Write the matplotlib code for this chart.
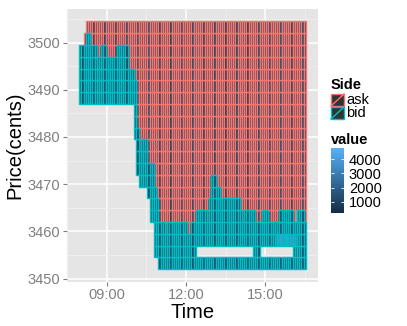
import numpy as np
import matplotlib
matplotlib.use("Agg")
import matplotlib.pyplot as plt
from matplotlib.colors import LinearSegmentedColormap, Normalize
from matplotlib.patches import Rectangle
from matplotlib.lines import Line2D
import matplotlib.cm as cm

plt.rcParams['font.family'] = ['Liberation Sans', 'DejaVu Sans']

# ---------------- data ----------------
# price levels of the book (tile centres, cents)
price_levels = [3453.25, 3455.75, 3458.25, 3460.75, 3463.25, 3465.75, 3468.25,
                3470.75, 3473.25, 3475.75, 3478.25, 3480.75, 3483.25, 3485.75,
                3488.25, 3490.75, 3493.25, 3495.75, 3498.25, 3500.75, 3503.25]
level_height = 2.5
snap_minutes = 5
first_snap = "08:00"
last_snap = "16:30"

# book shape per time segment (indices into price_levels; -1/21 = no orders)
seg_start = ["08:00", "08:10", "08:15", "08:25", "08:40", "08:50", "09:00", "09:25",
             "09:50", "10:05", "10:10", "10:15", "10:20", "10:35", "10:40", "10:50",
             "10:55", "11:00", "11:15", "11:20", "12:05", "12:15", "12:25", "12:50",
             "12:55", "13:00", "13:10", "13:20", "14:05", "14:10", "14:15", "14:40",
             "14:55", "15:10", "15:35", "16:05", "16:15", "16:30"]
bid_lo = [14, 14, 14, 14, 14, 14, 14, 14, 14, 11, 8, 7, 7, 6, 4, 1, 1, 0, 0, 0,
          0, 0, 0, 0, 0, 0, 0, 0, 0, 0, 0, 0, 0, 0, 0, 0, 0, 0]
bid_hi = [18, 18, 19, 18, 17, 18, 17, 18, 16, 15, 11, 9, 10, 8, 8, 6, 5, 3, 2, 3,
          2, 3, 4, 3, 5, 7, 6, 5, 4, 3, 4, 3, 4, 3, 4, 3, 4, 3]
ask_lo = [21, 19, 20, 19, 18, 19, 18, 19, 17, 16, 12, 10, 11, 9, 9, 7, 6, 4, 3, 4,
          3, 4, 5, 4, 6, 8, 7, 6, 5, 4, 5, 4, 5, 4, 5, 4, 5, 4]
ask_hi = [-1, 19, 20, 20, 20, 20, 20, 20, 20, 20, 20, 20, 20, 20, 20, 20, 20, 20, 20, 20,
          20, 20, 20, 20, 20, 20, 20, 20, 20, 20, 20, 20, 20, 20, 20, 20, 20, 20]

# empty bid level (row 1) periods
gap_start = ["12:25", "14:50"]
gap_end = ["14:30", "16:00"]
gap_row = [1, 1]

# order volume per snapshot column
ask_vals = [
    400, 500, 650, 900, 700, 1200, 800, 600, 1000, 750,
    1300, 700, 900, 600, 1100, 800, 950, 650, 1250, 700,
    850, 1000, 600, 1150, 800, 700, 1300, 900, 650, 1050,
    800, 1200, 700, 950, 600, 1100, 850, 1000, 700, 1250,
    900, 650, 1100, 800, 1000, 750, 1300, 900, 650, 1050,
    800, 950, 1200, 700, 900, 1100, 850, 1000, 750, 1250,
    900, 650, 1100, 800, 1000, 1300, 700, 900, 1050, 850,
    1150, 700, 950, 1200, 800, 1000, 650, 1100, 900, 1250,
    750, 1000, 850, 1150, 700, 950, 1300, 800, 1050, 900,
    700, 1200, 850, 1000, 750, 1100, 900, 1250, 800, 950,
    700, 1150, 900]
bid_vals = [
    900, 700, 1100, 800, 1300, 650, 1000, 850, 1200, 700,
    950, 1100, 750, 1250, 900, 600, 1050, 800, 1300, 700,
    1000, 850, 1150, 650, 900, 1200, 750, 1000, 1100, 800,
    1250, 700, 950, 1050, 800, 1300, 650, 1000, 900, 1150,
    750, 1200, 850, 1000, 700, 1100, 900, 1300, 800, 950,
    1050, 700, 1200, 850, 1000, 750, 1150, 900, 1250, 700,
    1000, 850, 1100, 800, 1300, 950, 700, 1200, 900, 1050,
    800, 1150, 750, 1000, 1250, 850, 1100, 700, 950, 1200,
    900, 1050, 800, 1300, 750, 1000, 1150, 850, 1200, 1000,
    900, 1100, 1250, 800, 950, 1200, 850, 1050, 900, 1150,
    800, 1000, 900]

# individual large orders
big_side = ["bid"] * 10 + ["ask"]
big_time = ["15:25", "15:30", "15:35", "15:40", "15:45", "15:50", "15:55", "16:00",
            "16:05", "16:10", "16:10"]
big_row = [2, 2, 2, 2, 2, 2, 2, 2, 2, 2, 4]
big_val = [3200, 3600, 3900, 3400, 3800, 4100, 3500, 3700, 3300, 3000, 4300]

x_tick_labels = ["09:00", "12:00", "15:00"]
y_ticks = [3450, 3460, 3470, 3480, 3490, 3500]
cbar_ticks = [1000, 2000, 3000, 4000]
value_range = (180, 4780)
side_names = ["ask", "bid"]

# ---------------- helpers ----------------
def hrs(s):
    h, m = s.split(":")
    return int(h) + int(m) / 60.0

ask_col = "#F8766D"
bid_col = "#00BFC4"
cmap = LinearSegmentedColormap.from_list("gg", ["#132B43", "#56B1F7"])
norm = Normalize(*value_range)

dt = snap_minutes / 60.0
t0 = hrs(first_snap)
ncol = int(round((hrs(last_snap) - t0) / dt)) + 1
assert len(ask_vals) == ncol and len(bid_vals) == ncol
seg_t = [hrs(s) for s in seg_start] + [hrs(last_snap) + dt]

# cells
ask_cells = {}
bid_cells = {}
for i in range(len(seg_start)):
    c0 = int(round((seg_t[i] - t0) / dt))
    c1 = int(round((seg_t[i + 1] - t0) / dt))
    for c in range(c0, c1):
        for r in range(bid_lo[i], bid_hi[i] + 1):
            bid_cells[(c, r)] = bid_vals[c]
        for r in range(ask_lo[i], ask_hi[i] + 1):
            ask_cells[(c, r)] = ask_vals[c]
for gs, ge, gr in zip(gap_start, gap_end, gap_row):
    for c in range(int(round((hrs(gs) - t0) / dt)), int(round((hrs(ge) - t0) / dt)) + 1):
        bid_cells.pop((c, gr), None)
for sd, tm, rw, v in zip(big_side, big_time, big_row, big_val):
    c = int(round((hrs(tm) - t0) / dt))
    d = bid_cells if sd == "bid" else ask_cells
    if (c, rw) in d:
        d[(c, rw)] = v

# ---------------- figure ----------------
W, H = 407, 326
fig = plt.figure(figsize=(W / 100, H / 100), dpi=100)
def fx(px): return px / W
def fy(py): return 1 - py / H

ax = fig.add_axes([fx(67), fy(281.5), fx(318) - fx(67), fy(9) - fy(281.5)])
ax.set_facecolor("#E5E5E5")
for s in ax.spines.values():
    s.set_visible(False)

for cells, ec in ((ask_cells, ask_col), (bid_cells, bid_col)):
    keys = sorted(cells.keys())
    xs = [t0 + c * dt for c, r in keys]
    bottoms = [price_levels[r] - level_height / 2 for c, r in keys]
    cols = [cmap(norm(cells[k])) for k in keys]
    ax.bar(xs, [level_height] * len(keys), width=dt, bottom=bottoms, color=cols,
           edgecolor=ec, linewidth=1.0, align="center", zorder=3)

ax.set_xlim(7.53, 17.0)
ax.set_ylim(3449.4, 3507.1)
ax.set_xticks([hrs(s) for s in x_tick_labels])
ax.set_xticklabels(x_tick_labels)
ax.set_yticks(y_ticks)
ax.set_yticklabels([str(v) for v in y_ticks])
ax.set_xticks([7.5, 10.5, 13.5, 16.5], minor=True)
ax.set_yticks([3455, 3465, 3475, 3485, 3495, 3505], minor=True)
ax.grid(True, which="major", color="white", linewidth=1.1, zorder=0)
ax.grid(True, which="minor", color="#F2F2F2", linewidth=0.5, zorder=0)
ax.set_axisbelow(True)
ax.tick_params(which="major", length=3, width=0.8, color="#7F7F7F", labelcolor="#7F7F7F",
               labelsize=10.5, pad=2.0)
ax.tick_params(which="minor", length=0)

fig.text(fx(193), fy(312), "Time", fontsize=14.5, ha="center", va="center")
fig.text(fx(15), fy(145), "Price(cents)", fontsize=14.5, ha="center", va="center",
         rotation=90)

# legend: Side
fig.text(fx(331), fy(85), "Side", fontsize=10.5, fontweight="bold", ha="left", va="center")
for i, (nm, ec) in enumerate(zip(side_names, (ask_col, bid_col))):
    top = 94 + i * 13
    rect = Rectangle((fx(331), fy(top + 12)), fx(13), fy(top) - fy(top + 12),
                     transform=fig.transFigure, facecolor="#333333", edgecolor=ec,
                     linewidth=1.0)
    fig.add_artist(rect)
    fig.add_artist(Line2D([fx(331), fx(344)], [fy(top + 12), fy(top)],
                          transform=fig.transFigure, color=ec, linewidth=1.0))
    fig.text(fx(346.5), fy(top + 6.3), nm, fontsize=10.5, ha="left", va="center")

# legend: value colour bar
fig.text(fx(331), fy(140), "value", fontsize=10.5, fontweight="bold", ha="left", va="center")
cax = fig.add_axes([fx(331), fy(213.3), fx(13), fy(148.3) - fy(213.3)])
sm = cm.ScalarMappable(norm=norm, cmap=cmap)
cb = fig.colorbar(sm, cax=cax, ticks=cbar_ticks)
cb.outline.set_visible(False)
cax.tick_params(direction="in", length=2.5, width=0.6, color="white", left=True,
                right=True, labelsize=10.5, pad=3.5)

fig.savefig("out.png", dpi=100)
